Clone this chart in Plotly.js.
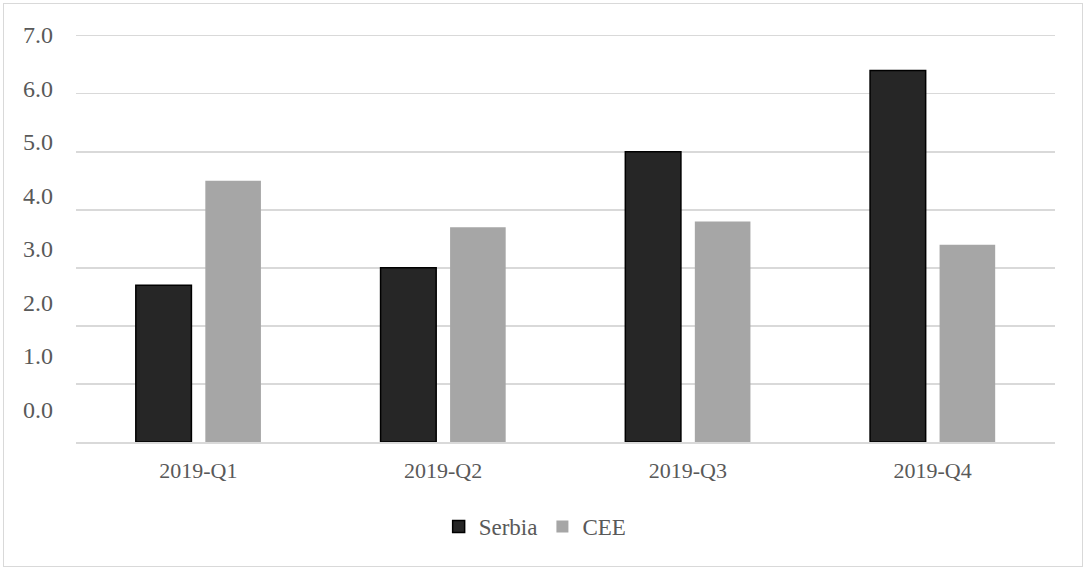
<!DOCTYPE html>
<html>
<head>
<meta charset="utf-8">
<script src="https://cdn.plot.ly/plotly-3.0.1.min.js"></script>
<style>
  html, body { margin: 0; padding: 0; background: #ffffff; }
  #wrap { position: relative; width: 1086px; height: 568px; }
  #chart { position: absolute; left: 0; top: 0; width: 1086px; height: 568px; }
  #frame { position: absolute; left: 3px; top: 3px; width: 1080px; height: 564px;
           box-sizing: border-box; border: 1px solid #d9d9d9; pointer-events: none; }
</style>
</head>
<body>
<div id="wrap">
  <div id="chart"></div>
  <div id="frame"></div>
</div>
<script>
// Quarterly values
const quarters = ['2019-Q1', '2019-Q2', '2019-Q3', '2019-Q4'];
const serbia = [2.7, 3.0, 5.0, 6.4];
const cee = [4.5, 3.7, 3.8, 3.4];

// Value-axis labels
const yTickVals = [0, 1, 2, 3, 4, 5, 6, 7];
const yTickText = ['0.0', '1.0', '2.0', '3.0', '4.0', '5.0', '6.0', '7.0'];

const textColor = '#595959';
const gridColor = '#d9d9d9';
const fontFamily = 'Liberation Serif, Times New Roman, serif';

const traces = [
  {
    type: 'bar', name: 'Serbia', x: quarters, y: serbia,
    marker: { color: '#262626', line: { color: '#000000', width: 1.5 } },
    hoverinfo: 'x+y+name'
  },
  {
    type: 'bar', name: 'CEE', x: quarters, y: cee,
    marker: { color: '#a6a6a6', line: { width: 0 } },
    hoverinfo: 'x+y+name'
  },
  // invisible trace that carries the label axis
  {
    type: 'scatter', x: [quarters[0]], y: [0], yaxis: 'y2',
    mode: 'markers', marker: { opacity: 0 }, showlegend: false, hoverinfo: 'skip'
  }
];

const layout = {
  width: 1086, height: 568,
  margin: { l: 76, r: 31, t: 30, b: 126 },
  paper_bgcolor: '#ffffff', plot_bgcolor: '#ffffff',
  font: { family: fontFamily, color: textColor, size: 22 },
  barmode: 'group', bargap: 0.432, bargroupgap: 0.2,
  showlegend: true,
  legend: {
    orientation: 'h', x: 0.469, xanchor: 'center', y: -0.205, yanchor: 'middle',
    font: { family: fontFamily, size: 23, color: textColor },
    itemwidth: 30, traceorder: 'normal'
  },
  xaxis: {
    type: 'category', showgrid: false, zeroline: false,
    showline: true, linecolor: gridColor, linewidth: 1.5,
    ticks: '', ticklabelstandoff: 8,
    tickfont: { family: fontFamily, size: 22, color: textColor }
  },
  yaxis: {
    range: [0, 7.098], tickvals: yTickVals, showticklabels: false,
    showgrid: true, gridcolor: gridColor, gridwidth: 1.5,
    zeroline: false, showline: false, ticks: '', fixedrange: true
  },
  yaxis2: {
    overlaying: 'y', side: 'left', range: [-0.611, 7.094],
    tickvals: yTickVals, ticktext: yTickText,
    showgrid: false, zeroline: false, showline: false, ticks: '',
    ticklabelstandoff: 22,
    tickfont: { family: fontFamily, size: 24, color: textColor }
  }
};

Plotly.newPlot('chart', traces, layout, { displayModeBar: false, staticPlot: true });
</script>
</body>
</html>
